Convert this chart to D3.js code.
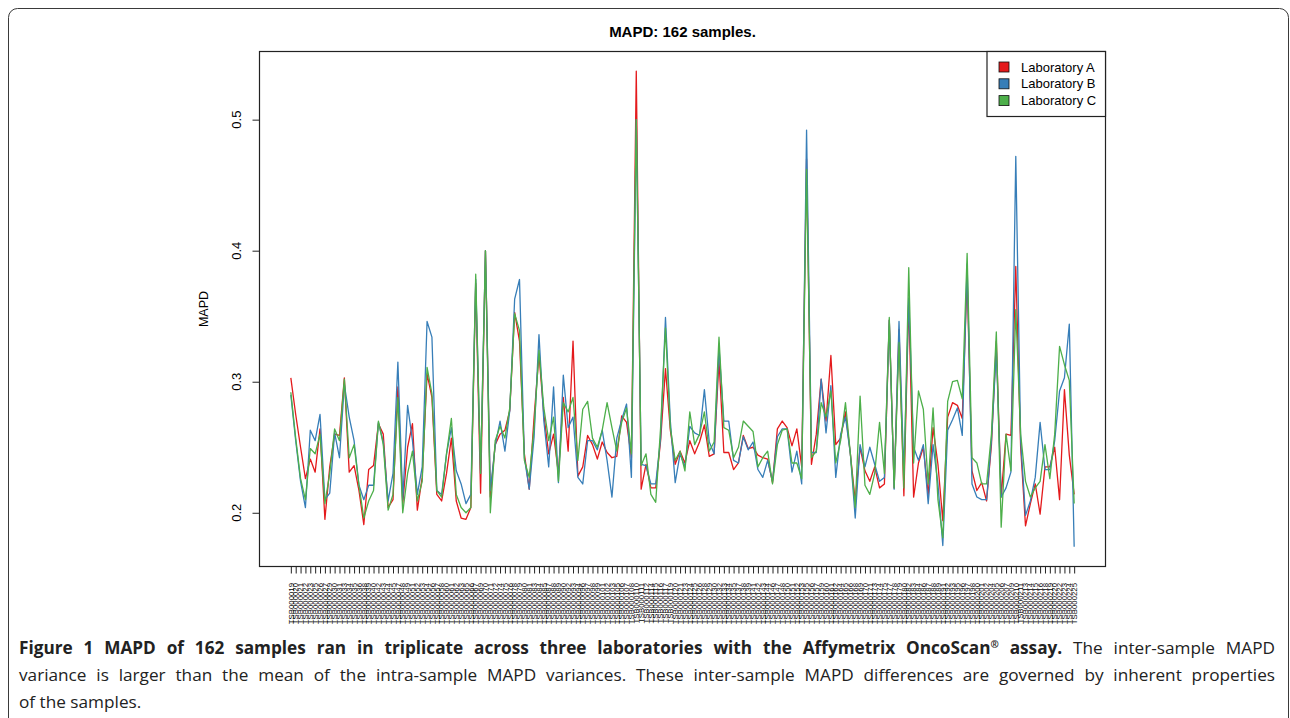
<!DOCTYPE html>
<html>
<head>
<meta charset="utf-8">
<script src="https://cdn.jsdelivr.net/npm/d3@7"></script>
<style>
  body { margin: 0; background: #fff; }
  svg { display: block; }
  .axis text { font-family: "Liberation Sans", Arial, sans-serif; fill: #000; }
  .axis line { stroke: #222; }
  .caption { font-family: "Open Sans", "Noto Sans", sans-serif; font-size: 17.2px; fill: #222; }
</style>
</head>
<body>
<svg width="1290" height="718"></svg>
<script>
'use strict';

// sample id numbers (x tick labels are built as TSB + 6 digits)
const sampleNums = [
  19,20,21,22,23,25,26,27,29,30,
  31,33,34,35,36,38,39,40,42,43,
  44,45,47,48,49,51,52,53,54,56,
  57,58,60,61,62,63,65,66,67,69,
  70,71,72,74,75,76,78,79,80,81,
  83,84,85,87,88,89,90,92,93,94,
  96,97,98,99,101,102,103,105,106,107,
  108,110,111,112,114,115,116,117,119,120,
  121,123,124,125,126,128,129,130,132,133,
  134,135,137,138,139,141,142,143,144,146,
  147,148,150,151,152,153,155,156,157,159,
  160,161,162,164,165,166,168,169,170,171,
  173,174,175,177,178,179,180,182,183,184,
  186,187,188,189,191,192,193,195,196,197,
  198,200,201,202,204,205,206,207,209,210,
  211,213,214,215,216,218,219,220,222,223,
  224,225
];

const labA = [
  .303,.275,.25,.226,.241,.231,.264,.195,.235,.26,
  .259,.303,.231,.236,.217,.191,.233,.236,.268,.26,
  .204,.21,.296,.207,.25,.268,.202,.227,.306,.288,
  .214,.209,.23,.257,.209,.196,.195,.204,.375,.215,
  .4,.212,.252,.26,.263,.278,.353,.331,.245,.218,
  .273,.321,.275,.245,.26,.23,.288,.247,.331,.228,
  .235,.259,.252,.241,.254,.246,.242,.243,.274,.269,
  .242,.537,.218,.237,.219,.219,.255,.31,.263,.237,
  .247,.238,.255,.245,.254,.267,.243,.245,.316,.246,
  .246,.233,.238,.259,.249,.25,.244,.242,.241,.223,
  .264,.27,.265,.251,.264,.235,.47,.237,.26,.302,
  .27,.32,.252,.257,.277,.245,.209,.25,.232,.224,
  .235,.219,.222,.347,.219,.34,.213,.362,.212,.238,
  .25,.214,.265,.237,.194,.273,.284,.282,.272,.38,
  .232,.217,.223,.209,.252,.331,.212,.26,.259,.388,
  .25,.19,.207,.222,.199,.235,.235,.25,.21,.294,
  .244,.214
];

const labB = [
  .29,.255,.224,.204,.263,.255,.275,.21,.215,.261,
  .242,.298,.273,.255,.221,.21,.221,.221,.269,.254,
  .209,.23,.315,.21,.282,.255,.214,.235,.346,.334,
  .217,.214,.245,.265,.232,.222,.207,.214,.378,.23,
  .4,.217,.251,.27,.247,.278,.363,.378,.242,.218,
  .258,.336,.27,.235,.296,.223,.305,.265,.273,.227,
  .222,.255,.255,.248,.263,.24,.212,.257,.271,.283,
  .227,.5,.237,.236,.222,.222,.257,.349,.27,.223,
  .245,.235,.266,.261,.259,.294,.254,.245,.326,.27,
  .27,.24,.238,.258,.248,.254,.233,.227,.24,.224,
  .258,.264,.264,.231,.247,.222,.492,.246,.246,.302,
  .261,.297,.227,.26,.273,.245,.196,.252,.235,.25,
  .237,.224,.227,.347,.218,.346,.23,.364,.25,.24,
  .252,.207,.252,.222,.175,.263,.271,.28,.259,.39,
  .222,.212,.21,.21,.255,.324,.212,.219,.231,.472,
  .255,.198,.209,.227,.269,.233,.233,.255,.293,.303,
  .344,.174
];

const labC = [
  .292,.257,.226,.21,.249,.245,.26,.207,.23,.264,
  .255,.302,.242,.252,.221,.196,.209,.217,.27,.252,
  .202,.214,.288,.2,.23,.247,.209,.224,.311,.291,
  .217,.212,.245,.272,.214,.204,.2,.204,.382,.23,
  .4,.2,.255,.266,.257,.28,.352,.339,.24,.227,
  .265,.324,.28,.255,.273,.224,.284,.277,.288,.24,
  .279,.285,.257,.25,.263,.284,.265,.247,.269,.28,
  .245,.5,.236,.245,.214,.208,.265,.341,.265,.24,
  .247,.232,.277,.252,.26,.277,.247,.254,.334,.265,
  .263,.242,.25,.27,.266,.262,.235,.242,.247,.222,
  .252,.263,.264,.238,.238,.226,.462,.242,.247,.284,
  .273,.293,.238,.255,.284,.245,.204,.289,.221,.214,
  .23,.269,.23,.349,.219,.33,.219,.387,.238,.293,
  .279,.222,.28,.21,.181,.285,.3,.301,.287,.398,
  .242,.238,.222,.222,.26,.338,.189,.26,.232,.355,
  .26,.224,.212,.219,.224,.252,.226,.26,.327,.313,
  .301,.207
];

const seriesNames = ["Laboratory A", "Laboratory B", "Laboratory C"];
const seriesColors = ["#E41A1C", "#377EB8", "#4DAF4A"];
const yTicks = [0.2, 0.3, 0.4, 0.5];

const svg = d3.select("svg");

// figure frame
svg.append("rect")
  .attr("x", 8.5).attr("y", 8.5)
  .attr("width", 1280).attr("height", 760)
  .attr("rx", 9)
  .attr("fill", "none")
  .attr("stroke", "#3a3a3a")
  .attr("stroke-width", 1);

const box = { left: 259.5, right: 1105.5, top: 51.5, bottom: 566.5 };

// R style 4% padding on index range
const n = sampleNums.length;
const pad = (n - 1) * 0.04;
const x = d3.scaleLinear()
  .domain([1 - pad, n + pad])
  .range([box.left, box.right]);

const y = d3.scaleLinear()
  .domain([0.159, 0.552])
  .range([box.bottom, box.top]);

const line = d3.line()
  .x((d, i) => x(i + 1))
  .y(d => y(d));

// series lines
const lines = svg.append("g").classed("lines", true);
[labA, labB, labC].forEach((vals, k) => {
  lines.append("path")
    .datum(vals)
    .attr("d", line)
    .attr("fill", "none")
    .attr("stroke", seriesColors[k])
    .attr("stroke-width", 1.3)
    .attr("stroke-linejoin", "round");
});

// plot box
svg.append("rect")
  .attr("x", box.left).attr("y", box.top)
  .attr("width", box.right - box.left)
  .attr("height", box.bottom - box.top)
  .attr("fill", "none")
  .attr("stroke", "#222")
  .attr("stroke-width", 1.2);

// x axis: one tick per sample, vertical labels
const xAxis = svg.append("g").classed("axis", true)
  .attr("transform", `translate(0,${box.bottom})`)
  .call(d3.axisBottom(x)
    .tickValues(d3.range(1, n + 1))
    .tickSize(7)
    .tickFormat(""));
xAxis.select(".domain").remove();

const labels = sampleNums.map(v => "TSB" + String(v).padStart(6, "0"));
svg.append("g").classed("axis", true)
  .selectAll("text")
  .data(labels).enter().append("text")
  .attr("transform", (d, i) => `translate(${x(i + 1)},583) rotate(-90)`)
  .attr("text-anchor", "end")
  .attr("dy", "0.35em")
  .style("font-size", "7.8px")
  .text(d => d);

// y axis
const yAxis = svg.append("g").classed("axis", true)
  .attr("transform", `translate(${box.left},0)`)
  .call(d3.axisLeft(y).tickValues(yTicks).tickSize(7).tickFormat(""));
yAxis.select(".domain").remove();

svg.append("g").classed("axis", true)
  .selectAll("text")
  .data(yTicks).enter().append("text")
  .attr("transform", d => `translate(241,${y(d)}) rotate(-90)`)
  .attr("text-anchor", "middle")
  .style("font-size", "13px")
  .text(d => d3.format(".1f")(d));

svg.append("text").classed("axis", true)
  .attr("transform", `translate(208,${(box.top + box.bottom) / 2}) rotate(-90)`)
  .attr("text-anchor", "middle")
  .style("font-family", "Liberation Sans, Arial, sans-serif")
  .style("font-size", "12.5px")
  .text("MAPD");

// title
svg.append("text")
  .attr("x", (box.left + box.right) / 2)
  .attr("y", 37)
  .attr("text-anchor", "middle")
  .style("font-family", "Liberation Sans, Arial, sans-serif")
  .style("font-weight", "bold")
  .style("font-size", "15px")
  .text("MAPD: 162 samples.");

// legend (top right, inset 0)
const legend = svg.append("g").classed("legend", true);
legend.append("rect")
  .attr("x", 987).attr("y", box.top)
  .attr("width", box.right - 987).attr("height", 65)
  .attr("fill", "#fff")
  .attr("stroke", "#222")
  .attr("stroke-width", 1.2);

seriesNames.forEach((name, k) => {
  const cy = 67 + k * 16.8;
  legend.append("rect")
    .attr("x", 999).attr("y", cy - 5)
    .attr("width", 10).attr("height", 10)
    .attr("fill", seriesColors[k])
    .attr("stroke", "#111")
    .attr("stroke-width", 0.8);
  legend.append("text")
    .attr("x", 1021).attr("y", cy + 4.6)
    .style("font-family", "Liberation Sans, Arial, sans-serif")
    .style("font-size", "13px")
    .text(name);
});

// caption (justified to the text column like the journal layout)
const capLeft = 19, capRight = 1275;
const cap = svg.append("g").classed("caption", true);

const l1 = cap.append("text").attr("x", capLeft).attr("y", 654);
const bold = l1.append("tspan").style("font-weight", "bold");
bold.append("tspan")
  .text("Figure 1 MAPD of 162 samples ran in triplicate across three laboratories with the Affymetrix OncoScan");
bold.append("tspan").style("font-size", "10px").attr("dy", "-6").text("®");
bold.append("tspan").attr("dy", "6").text(" assay.");
l1.append("tspan").text(" The inter-sample MAPD");

const l2 = cap.append("text").attr("x", capLeft).attr("y", 681)
  .text("variance is larger than the mean of the intra-sample MAPD variances. These inter-sample MAPD differences are governed by inherent properties");
cap.append("text").attr("x", capLeft).attr("y", 708)
  .text("of the samples.");

function justify(textSel) {
  const gaps = textSel.text().split(" ").length - 1;
  const w = textSel.node().getComputedTextLength();
  const extra = (capRight - capLeft - w) / gaps;
  if (extra > 0) textSel.style("word-spacing", extra + "px");
}
justify(l1);
justify(l2);
</script>
</body>
</html>
